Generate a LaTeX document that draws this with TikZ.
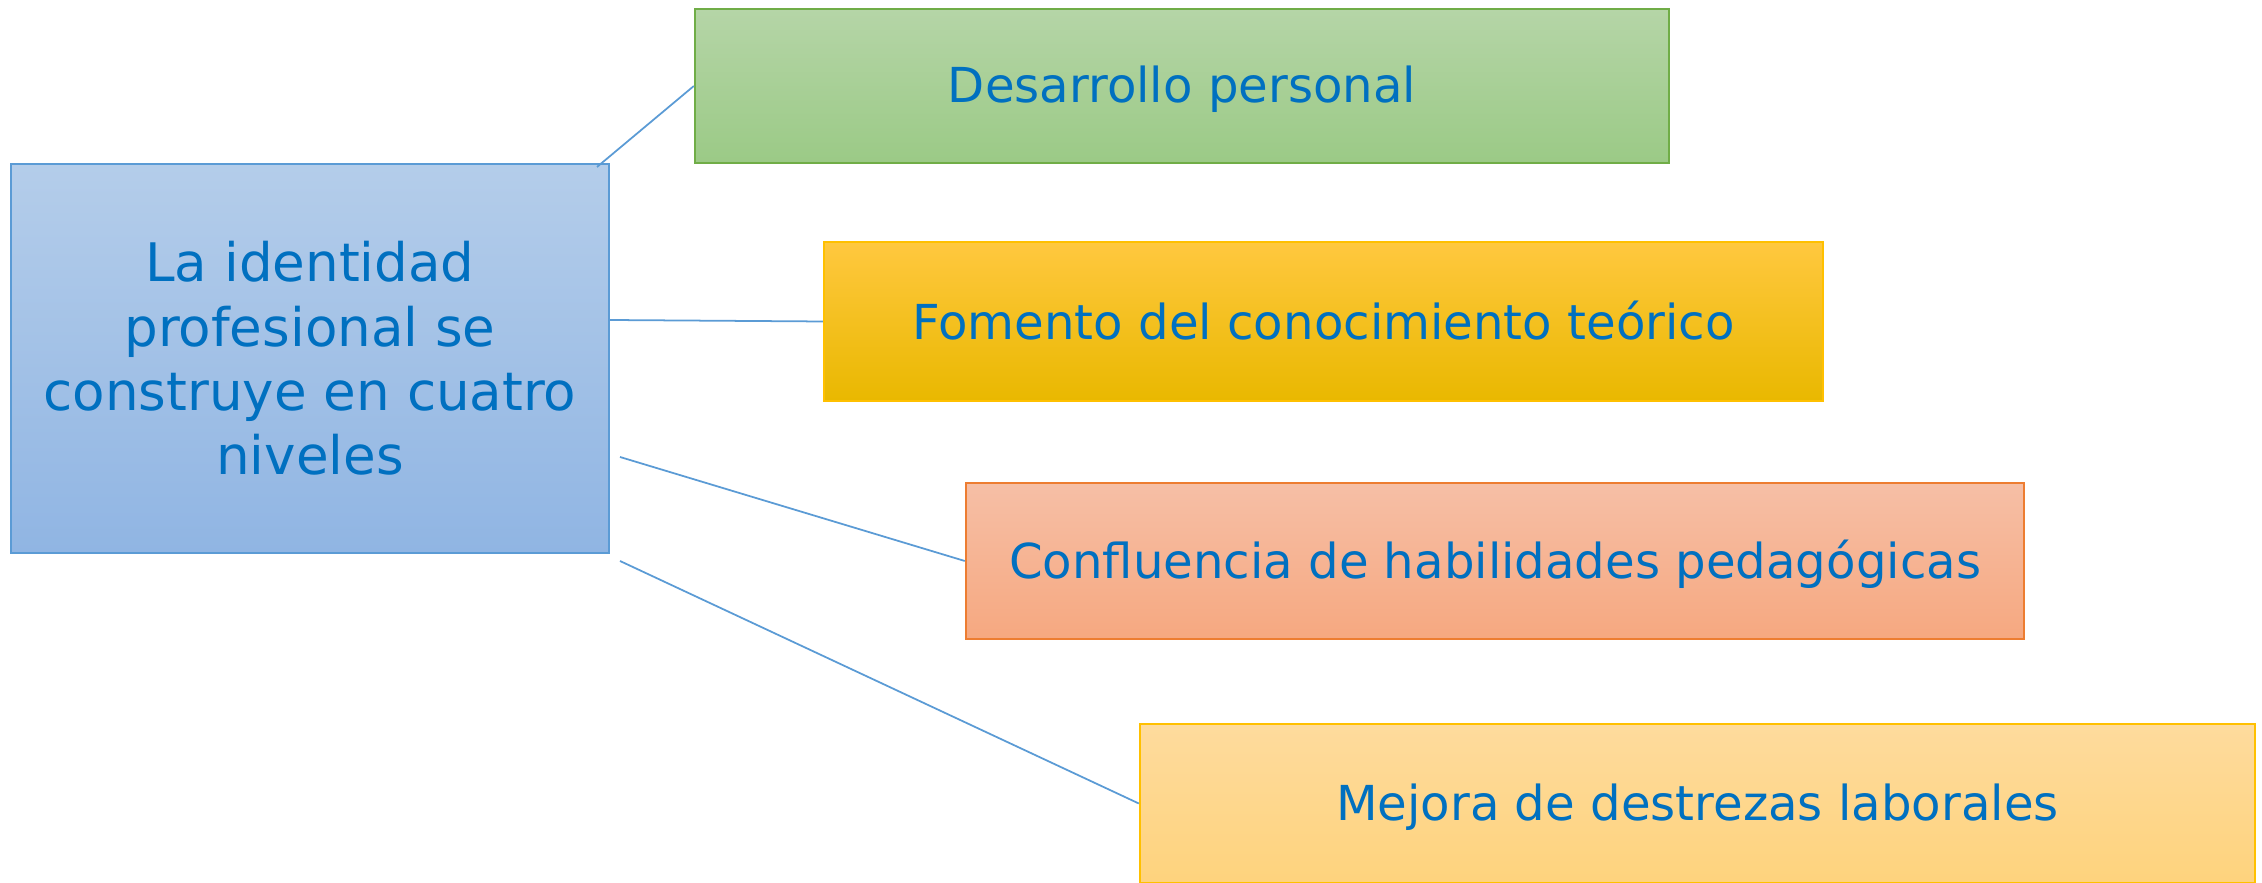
\documentclass[tikz,border=0pt]{standalone}
\usepackage{fontspec}
\setmainfont{DejaVu Sans}
\definecolor{txtblue}{HTML}{0070C0}
\definecolor{lineblue}{HTML}{5B9BD5}
\definecolor{identtop}{HTML}{B4CDEA}
\definecolor{identbot}{HTML}{90B5E3}
\definecolor{persline}{HTML}{70AD47}
\definecolor{perstop}{HTML}{B5D5A7}
\definecolor{persbot}{HTML}{9BCA86}
\definecolor{teoline}{HTML}{FFC000}
\definecolor{teotop}{HTML}{FFC83F}
\definecolor{teomid}{HTML}{FFC300}
\definecolor{teobot}{HTML}{E9B800}
\definecolor{pedline}{HTML}{ED7D31}
\definecolor{pedtop}{HTML}{F6BFA6}
\definecolor{pedbot}{HTML}{F6A880}
\definecolor{labtop}{HTML}{FEDB9D}
\definecolor{labbot}{HTML}{FED37D}

\begin{document}
\begin{tikzpicture}[x=0.01cm,y=-0.01cm,
    nivel/.style={rectangle,inner sep=0pt,line width=0.5pt,text=txtblue,text depth=0.8pt,
      font=\fontsize{13.7}{16.4}\selectfont,minimum height=1.56cm},
    enlace/.style={draw=lineblue,line width=0.5pt}]
            \useasboundingbox (0,0) rectangle (2262,883);
            % Central box
            \node[nivel,draw=lineblue,top color=identtop,bottom color=identbot,text depth=,
              minimum width=5.975cm,minimum height=3.89cm,align=center,
              font=\fontsize{15.1}{18.3}\selectfont] (ident) at (310,358.5)
              {La identidad\\profesional se\\construye en cuatro\\niveles};
            % Four levels
            \node[nivel,draw=persline,top color=perstop,bottom color=persbot,
              minimum width=9.74cm,minimum height=1.54cm]
              (personal) at (1182,86) {Desarrollo personal};
            \node[nivel,draw=teoline,top color=teotop,middle color=teomid,bottom color=teobot,
              minimum width=9.99cm,minimum height=1.59cm]
              (teorico) at (1323.5,321.5) {Fomento del conocimiento teórico};
            \node[nivel,draw=pedline,top color=pedtop,bottom color=pedbot,
              minimum width=10.58cm] (pedagog) at (1495,561) {Confluencia de habilidades pedagógicas};
            \node[nivel,draw=teoline,top color=labtop,bottom color=labbot,
              minimum width=11.15cm,minimum height=1.59cm] (laboral) at (1697.5,803.5) {Mejora de destrezas laborales};
            % Connector ends on the central box
            \coordinate (e1) at (597,167);
            \coordinate (e2) at (609,320);
            \coordinate (e3) at (620,457);
            \coordinate (e4) at (620,561);
            \draw[enlace] (e1) -- (personal.west);
            \draw[enlace] (e2) -- (teorico.west);
            \draw[enlace] (e3) -- (pedagog.west);
            \draw[enlace] (e4) -- (laboral.west);
        \end{tikzpicture}
\end{document}
